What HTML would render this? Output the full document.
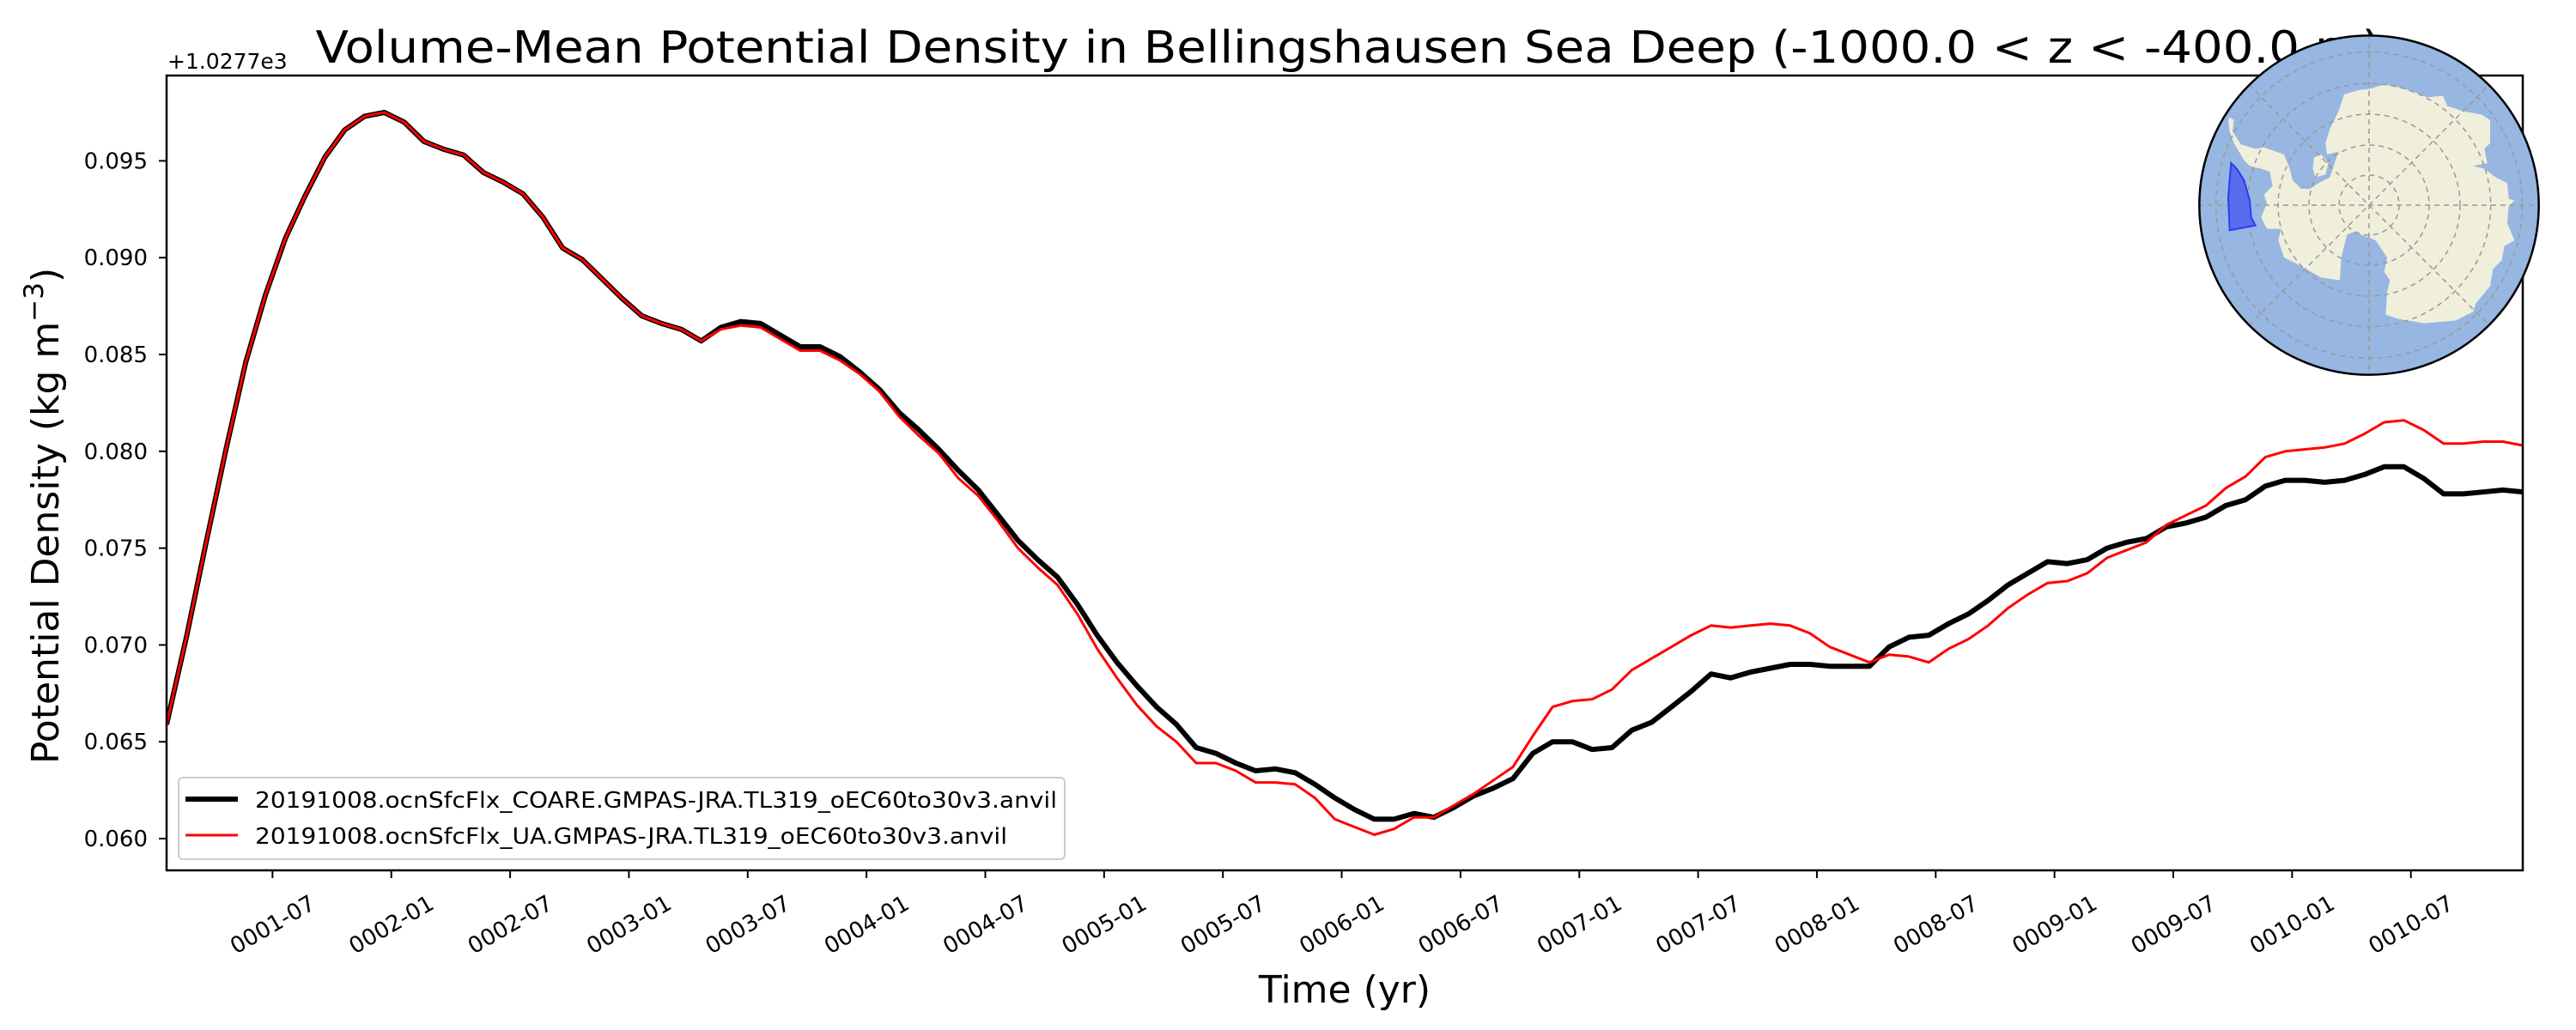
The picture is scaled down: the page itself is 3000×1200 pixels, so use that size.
<!DOCTYPE html>
<html><head><meta charset="utf-8"><style>
html,body{margin:0;padding:0;background:#fff}
svg{display:block}
text{font-family:"DejaVu Sans","Liberation Sans",sans-serif;fill:#000}
</style></head><body>
<svg id="chart" width="3000" height="1200" viewBox="0 0 3000 1200" xmlns="http://www.w3.org/2000/svg">
<rect width="3000" height="1200" fill="#fff"/>
<text x="1570" y="73" font-size="52" text-anchor="middle" textLength="2405" lengthAdjust="spacingAndGlyphs">Volume-Mean Potential Density in Bellingshausen Sea Deep (-1000.0 &lt; z &lt; -400.0 m)</text>
<text x="195" y="80" font-size="25">+1.0277e3</text>
<g id="plot"></g>
<text transform="translate(68,601) rotate(-90)" font-size="44" text-anchor="middle">Potential Density (kg m<tspan font-size="31" dy="-18">−3</tspan><tspan dy="18">)</tspan></text>
<text x="1566" y="1168" font-size="44" text-anchor="middle">Time (yr)</text>
<g>
<rect x="208" y="906" width="1032" height="95" rx="5" fill="#fff" fill-opacity="0.8" stroke="#ccc" stroke-width="2"/>
<line x1="216" y1="931" x2="277" y2="931" stroke="#000" stroke-width="6"/>
<text x="297" y="941" font-size="26" textLength="934" lengthAdjust="spacingAndGlyphs">20191008.ocnSfcFlx_COARE.GMPAS-JRA.TL319_oEC60to30v3.anvil</text>
<line x1="216" y1="973" x2="277" y2="973" stroke="#f00" stroke-width="3"/>
<text x="297" y="983" font-size="26" textLength="876" lengthAdjust="spacingAndGlyphs">20191008.ocnSfcFlx_UA.GMPAS-JRA.TL319_oEC60to30v3.anvil</text>
</g>
<g transform="translate(2560,40) scale(0.33333)">
<defs><clipPath id="mc"><circle cx="597" cy="597" r="593"/></clipPath></defs>
<circle cx="597" cy="597" r="593" fill="#97b6e1"/>
<g clip-path="url(#mc)">
<polygon fill="#efefdb" points="110,290 125,300 120,340 150,385 200,400 230,395 300,420 320,470 330,510 360,540 390,540 420,520 460,500 480,440 490,410 450,420 445,380 460,330 490,270 510,210 560,195 600,190 650,175 700,185 750,200 800,220 855,215 870,250 930,270 990,280 1020,300 1020,380 1000,400 1010,450 960,460 1000,470 1040,500 1080,520 1085,575 1105,580 1085,600 1080,660 1105,720 1070,740 1060,790 1030,820 1020,880 970,940 960,970 900,1000 790,1010 700,995 655,980 660,900 670,860 650,830 660,780 620,720 570,700 545,690 520,700 500,780 495,860 430,850 340,800 300,780 280,720 290,680 240,680 220,640 240,590 230,560 260,530 250,480 220,470 180,460 160,440 125,380 110,340 105,300"/>
<polygon fill="#efefdb" points="405,430 430,420 455,450 445,490 410,500 400,470"/>
<g fill="none" stroke="#999" stroke-width="4.5" stroke-dasharray="18,15">
<circle cx="597" cy="597" r="105"/><circle cx="597" cy="597" r="210"/><circle cx="597" cy="597" r="318"/><circle cx="597" cy="597" r="425"/><circle cx="597" cy="597" r="535"/>
<line x1="0" y1="597" x2="1200" y2="597"/><line x1="597" y1="0" x2="597" y2="1200"/>
<line x1="177" y1="177" x2="1017" y2="1017"/><line x1="177" y1="1017" x2="1017" y2="177"/>
</g>
<polygon points="115,450 135,470 160,510 180,580 185,640 200,668 110,685 105,570" fill="#4d5ff0" fill-opacity="0.85" stroke="#2a3cf0" stroke-width="6"/>
</g>
<circle cx="597" cy="597" r="593" fill="none" stroke="#000" stroke-width="7.5"/>
</g>
</svg>
<script>
const coareValues = [0.0659,0.0704,0.0753,0.0801,0.0846,0.0881,0.0910,0.0932,0.0952,0.0966,0.0973,0.0975,0.0970,0.0960,0.0956,0.0953,0.0944,0.0939,0.0933,0.0921,0.0905,0.0899,0.0889,0.0879,0.0870,0.0866,0.0863,0.0857,0.0864,0.0867,
0.0866,0.0860,0.0854,0.0854,0.0849,0.0841,0.0832,0.0820,0.0811,0.0801,0.0790,0.0780,0.0767,0.0754,0.0744,0.0735,0.0721,0.0705,0.0691,0.0679,0.0668,0.0659,0.0647,0.0644,0.0639,0.0635,0.0636,0.0634,0.0628,0.0621,
0.0615,0.0610,0.0610,0.0613,0.0611,0.0616,0.0622,0.0626,0.0631,0.0644,0.0650,0.0650,0.0646,0.0647,0.0656,0.0660,0.0668,0.0676,0.0685,0.0683,0.0686,0.0688,0.0690,0.0690,0.0689,0.0689,0.0689,0.0699,0.0704,0.0705,
0.0711,0.0716,0.0723,0.0731,0.0737,0.0743,0.0742,0.0744,0.0750,0.0753,0.0755,0.0761,0.0763,0.0766,0.0772,0.0775,0.0782,0.0785,0.0785,0.0784,0.0785,0.0788,0.0792,0.0792,0.0786,0.0778,0.0778,0.0779,0.0780,0.0779];
const uaValues = [0.0659,0.0704,0.0753,0.0801,0.0846,0.0881,0.0910,0.0932,0.0952,0.0966,0.0973,0.0975,0.0970,0.0960,0.0956,0.0953,0.0944,0.0939,0.0933,0.0921,0.0905,0.0899,0.0889,0.0879,0.0870,0.0866,0.0863,0.0857,0.0863,0.0865,
0.0864,0.0858,0.0852,0.0852,0.0847,0.0840,0.0831,0.0818,0.0808,0.0799,0.0786,0.0777,0.0764,0.0750,0.0740,0.0731,0.0716,0.0698,0.0683,0.0669,0.0658,0.0650,0.0639,0.0639,0.0635,0.0629,0.0629,0.0628,0.0621,0.0610,
0.0606,0.0602,0.0605,0.0611,0.0611,0.0617,0.0623,0.0630,0.0637,0.0653,0.0668,0.0671,0.0672,0.0677,0.0687,0.0693,0.0699,0.0705,0.0710,0.0709,0.0710,0.0711,0.0710,0.0706,0.0699,0.0695,0.0691,0.0695,0.0694,0.0691,
0.0698,0.0703,0.0710,0.0719,0.0726,0.0732,0.0733,0.0737,0.0745,0.0749,0.0753,0.0762,0.0767,0.0772,0.0781,0.0787,0.0797,0.0800,0.0801,0.0802,0.0804,0.0809,0.0815,0.0816,0.0811,0.0804,0.0804,0.0805,0.0805,0.0803];
const yTickValues = [0.060,0.065,0.070,0.075,0.080,0.085,0.090,0.095];
const yTickLabels = ["0.060","0.065","0.070","0.075","0.080","0.085","0.090","0.095"];
const xTickLabels = ["0001-07","0002-01","0002-07","0003-01","0003-07","0004-01","0004-07","0005-01","0005-07","0006-01","0006-07","0007-01","0007-07","0008-01","0008-07","0009-01","0009-07","0010-01","0010-07"];

const L=194,R=2938,T=88,B=1014;
const NS='http://www.w3.org/2000/svg';
function xScale(i){return L+i*(R-L)/(coareValues.length-1);}
function yScale(v){return 977-(v-0.060)*22560;}
function tickMonthIndex(lbl){const y=parseInt(lbl.slice(0,4),10),m=parseInt(lbl.slice(5),10);return (y-1)*12+(m-1)-0.65;}
const plot=document.getElementById('plot');
function mk(tag,attrs){const e=document.createElementNS(NS,tag);for(const k in attrs)e.setAttribute(k,attrs[k]);return e;}

const cp=mk('clipPath',{id:'pc'});cp.appendChild(mk('rect',{x:L,y:T,width:R-L,height:B-T}));
const defs=mk('defs',{});defs.appendChild(cp);plot.appendChild(defs);

function addLine(vals,color,w,name){
  const pts=vals.map((v,i)=>xScale(i).toFixed(1)+','+yScale(v).toFixed(1)).join(' ');
  const pl=mk('polyline',{points:pts,fill:'none',stroke:color,'stroke-width':w,'stroke-linejoin':'round','clip-path':'url(#pc)'});
  
  
  plot.appendChild(pl);
}
addLine(coareValues,'#000',6,'series-coare-line');
addLine(uaValues,'#f00',3,'series-ua-line');

const frame=mk('rect',{x:L,y:T,width:R-L,height:B-T,fill:'none',stroke:'#000','stroke-width':2.5});


plot.appendChild(frame);

yTickValues.forEach((v,k)=>{
  const y=yScale(v);
  const t=mk('line',{x1:L-9,y1:y,x2:L,y2:y,stroke:'#000','stroke-width':2});
  
  
  plot.appendChild(t);
  const lb=mk('text',{x:172,y:y+9,'font-size':26,'text-anchor':'end'});
  lb.textContent=yTickLabels[k];
  
  
  plot.appendChild(lb);
});
xTickLabels.forEach(lbl=>{
  const x=xScale(tickMonthIndex(lbl));
  const t=mk('line',{x1:x,y1:B,x2:x,y2:B+9,stroke:'#000','stroke-width':2});
  
  
  plot.appendChild(t);
  const lb=mk('text',{x:x,y:1086,'font-size':26,'text-anchor':'middle',transform:'rotate(-30 '+x+' 1077)'});
  lb.textContent=lbl;
  
  
  plot.appendChild(lb);
});
</script>
</body></html>
